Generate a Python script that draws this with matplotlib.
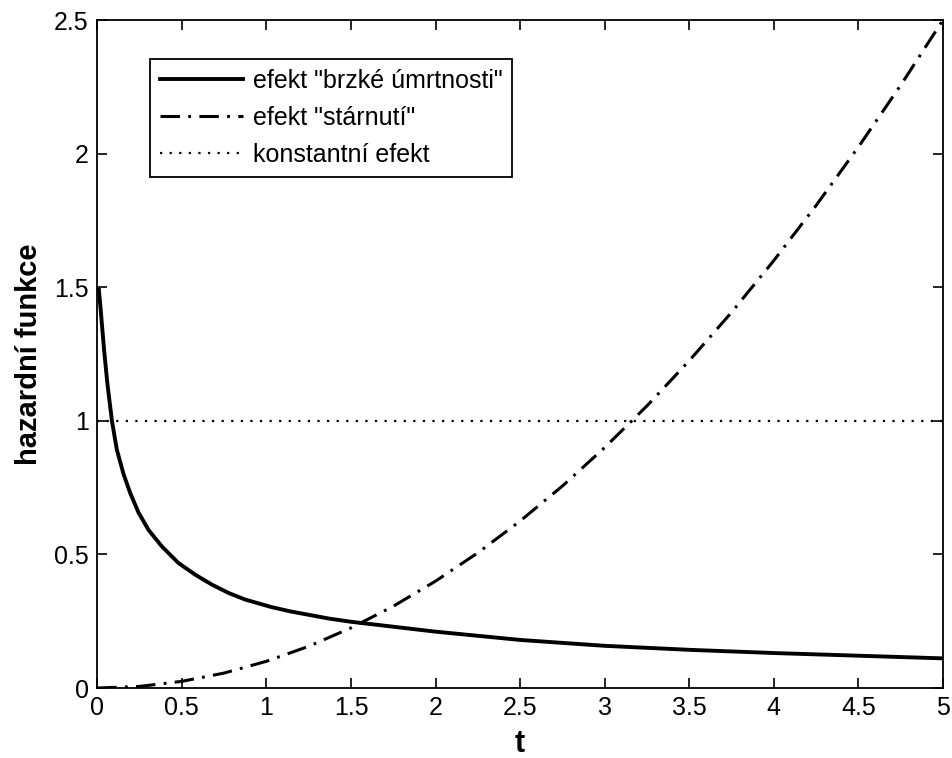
"""
Hazard function shapes: early mortality, ageing and constant effect.
"""

import matplotlib
matplotlib.use("Agg")
import matplotlib.pyplot as plt
import matplotlib as mpl
from matplotlib import font_manager

mpl.rcParams.update({
    "font.family": ["Liberation Sans", "DejaVu Sans"],
    "lines.scale_dashes": False,
    "xtick.direction": "in",
    "ytick.direction": "in",
})

# values
t_early = [0.01, 0.02, 0.04, 0.06, 0.087, 0.116, 0.156, 0.195, 0.244, 0.303,
           0.382, 0.48, 0.58, 0.678, 0.776, 0.875, 1.03, 1.14, 1.37, 1.5,
           2.0, 2.5, 3.0, 3.5, 4.0, 4.5, 5.0]
h_early = [1.49, 1.42, 1.27, 1.14, 1.00, 0.892, 0.80, 0.73, 0.657, 0.592,
           0.53, 0.468, 0.424, 0.387, 0.356, 0.331, 0.303, 0.287, 0.26, 0.248,
           0.211, 0.180, 0.158, 0.143, 0.131, 0.121, 0.111]

t_aging = [0, 0.25, 0.5, 0.75, 1.0, 1.25, 1.5, 1.75, 2.0, 2.25, 2.5, 2.75,
           3.0, 3.25, 3.5, 3.75, 4.0, 4.25, 4.5, 4.75, 5.0]
h_aging = [0, 0.006, 0.025, 0.056, 0.10, 0.156, 0.225, 0.306, 0.40, 0.506,
           0.625, 0.756, 0.90, 1.056, 1.225, 1.406, 1.60, 1.806, 2.025, 2.256,
           2.50]

t_const = [0, 5]
h_const = [1, 1]

labels = ['efekt "brzké úmrtnosti"', 'efekt "stárnutí"', 'konstantní efekt']
xticks = [0, 0.5, 1, 1.5, 2, 2.5, 3, 3.5, 4, 4.5, 5]
xticklabels = ["0", "0.5", "1", "1.5", "2", "2.5", "3", "3.5", "4", "4.5", "5"]
yticks = [0, 0.5, 1, 1.5, 2, 2.5]
yticklabels = ["0", "0.5", "1", "1.5", "2", "2.5"]

installed = {f.name for f in font_manager.fontManager.ttflist}
if "Liberation Sans Narrow" in installed:
    tick_font = {"family": "Liberation Sans Narrow", "size": 19}
else:
    tick_font = {"family": "Liberation Sans", "size": 18}

fig = plt.figure(figsize=(9.53, 7.58), dpi=100)
ax = fig.add_axes([0.102, 0.0923, 0.8875, 0.8813])

ax.plot(t_early, h_early, color="black", linewidth=2.8, label=labels[0])
ax.plot(t_aging, h_aging, color="black", linewidth=2.2,
        linestyle=(0, (14, 6, 2, 6)), label=labels[1])
ax.plot(t_const, h_const, color="black", linewidth=1.6,
        linestyle=(0, (1.6, 5.3)), label=labels[2])

ax.set_xlim(0, 5)
ax.set_ylim(0, 2.5)
ax.set_xticks(xticks)
ax.set_yticks(yticks)
ax.set_xticklabels(xticklabels, fontdict=tick_font)
ax.set_yticklabels(yticklabels, fontdict=tick_font)
ax.tick_params(top=True, right=True, length=7, width=1.2, pad=6)
for sp in ax.spines.values():
    sp.set_linewidth(1.3)

ax.set_xlabel("t", fontsize=22, fontweight="bold", labelpad=6)
ax.set_ylabel("hazardní funkce", fontsize=21, fontweight="bold", labelpad=8)

leg = ax.legend(loc="upper left", bbox_to_anchor=(0.0627, 0.9416),
                fontsize=18, frameon=True, fancybox=False,
                edgecolor="black", framealpha=1, handlelength=3.3,
                handletextpad=0.4, borderpad=0.4, labelspacing=0.52,
                borderaxespad=0)
leg.get_frame().set_linewidth(1.3)

fig.savefig("out.png", dpi=100)
